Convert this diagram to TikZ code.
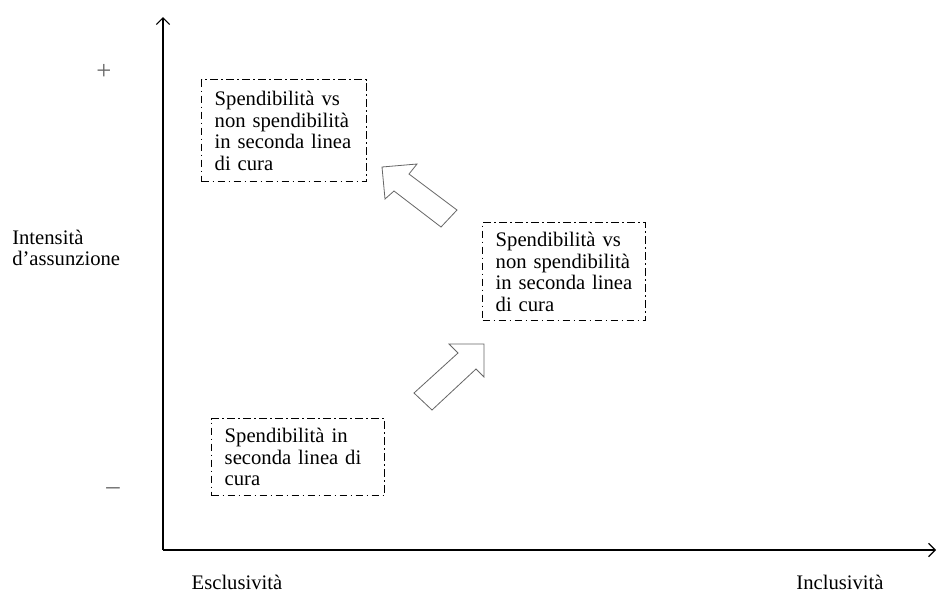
\documentclass[tikz,border=0pt]{standalone}
\usepackage{fontspec}
\setmainfont{Liberation Serif}
\usetikzlibrary{arrows.meta}
\begin{document}
\begin{tikzpicture}[x=0.75pt,y=-0.75pt,
  every node/.style={font=\fontsize{15.5}{16.1}\selectfont, inner sep=0pt},
  axis/.style={line width=1.1pt, -{Straight Barb[length=5pt,width=10pt,line width=0.9pt]}},
  box/.style={draw, line width=1.1pt,
    dash pattern=on 5.5pt off 2.6pt on 1.3pt off 2.6pt,
    anchor=north west, align=left, inner xsep=9.75pt, inner ysep=0pt},
  blockarrow/.style={draw=black!60, line width=0.6pt, fill=white, line join=miter},
  signlabel/.style={text=black!60, font=\fontsize{20}{20}\selectfont},
  axislabel/.style={anchor=center}
]
\useasboundingbox (0,0) rectangle (938,594);

% axes
\coordinate (O) at (163,550);
\coordinate (ytop) at (163,17);
\coordinate (xend) at (936,550);
\draw[axis] (O) -- (ytop);
\draw[axis] (O) -- (xend);

% axis labels
\node[signlabel] (plus) at (104,72) {+};
\node[signlabel] (minus) at (113,491) {–};
\node[anchor=west, align=left] (ylab) at (12,248)
  {Intensità\\d’assunzione};
\node[axislabel] (xleft) at (237,582) {Esclusività};
\node[axislabel] (xright) at (840,582) {Inclusività};

% boxes
\node[box, text width=104.25pt, minimum height=76.5pt] (b1) at (201,79)
  {Spendibilità vs\\non spendibilità\\in seconda linea\\di cura};
\node[box, text width=102.75pt, minimum height=73.5pt] (b2) at (482,222)
  {Spendibilità vs\\non spendibilità\\in seconda linea\\di cura};
\node[box, text width=110.25pt, minimum height=57.75pt] (b3) at (211,418)
  {Spendibilità in\\seconda linea di\\cura};

% block arrows
\draw[blockarrow] (382,167) -- (417,164) -- (409,174) -- (457,210) -- (441,227)
  -- (394,191) -- (385,199) -- cycle;
\draw[blockarrow] (484,344) -- (449,344) -- (458,353) -- (414,393) -- (432,410)
  -- (476,369) -- (484,377) -- cycle;
\end{tikzpicture}
\end{document}
